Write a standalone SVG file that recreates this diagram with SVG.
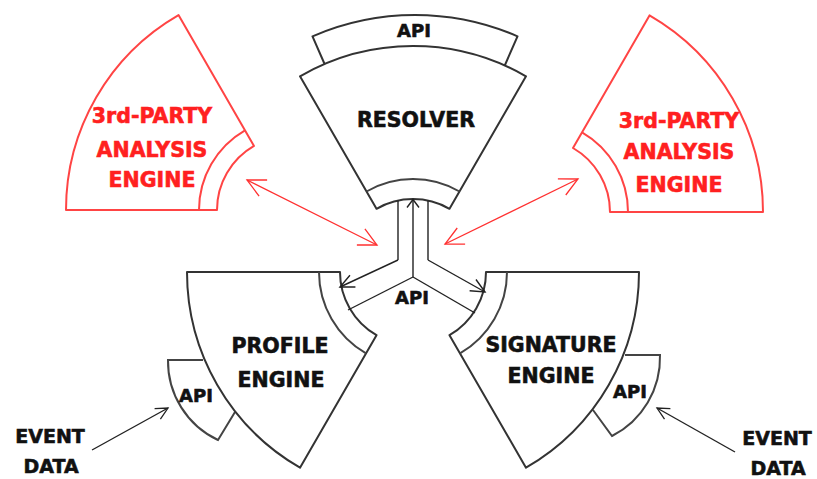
<svg xmlns="http://www.w3.org/2000/svg" width="817" height="479" viewBox="0 0 817 479">
  <defs>
    <style>
      .sec { fill: #fff; stroke: #333; stroke-width: 2; stroke-linejoin: round; }
      .band { fill: none; stroke: #444; stroke-width: 2; }
      .rsec { fill: #fff; stroke: #ff4444; stroke-width: 2; stroke-linejoin: round; }
      .rband { fill: none; stroke: #ff4444; stroke-width: 2; }
      .pipe { fill: none; stroke: #222; stroke-width: 1.4; }
      .rarrow { fill: none; stroke: #ff3030; stroke-width: 1.3; }
      .lbl { font-family: "DejaVu Sans", "Liberation Sans", sans-serif; font-weight: bold; font-size: 20.5px; text-anchor: middle; fill: #111; stroke: #111; stroke-width: 0.6; }
      .api { font-size: 18px; }
      .red { fill: #ff2020; stroke: #ff2020; }
    </style>
    <marker id="headRed" viewBox="-20 -10 22 20" refX="0" refY="0" markerWidth="22" markerHeight="20" markerUnits="userSpaceOnUse" orient="auto-start-reverse">
      <path d="M -18,-9 L 0,0 L -18,9" fill="none" stroke="#ff3030" stroke-width="1.3"/>
    </marker>
    <marker id="headBlack" viewBox="-16 -8 18 16" refX="0" refY="0" markerWidth="18" markerHeight="16" markerUnits="userSpaceOnUse" orient="auto">
      <path d="M -14,-6.5 L 0,0 L -14,6.5" fill="none" stroke="#222" stroke-width="1.4"/>
    </marker>
    <marker id="headSmall" viewBox="-10 -8 12 16" refX="0" refY="0" markerWidth="12" markerHeight="16" markerUnits="userSpaceOnUse" orient="auto">
      <path d="M -8,-6 L 0,0 L -8,6" fill="none" stroke="#222" stroke-width="1.4"/>
    </marker>
    <marker id="headEvent" viewBox="-14 -8 16 16" refX="0" refY="0" markerWidth="16" markerHeight="16" markerUnits="userSpaceOnUse" orient="auto">
      <path d="M -12,-6 L 0,0 L -12,6" fill="none" stroke="#222" stroke-width="1.3"/>
    </marker>
  </defs>

  <!-- Resolver with its outer API band -->
  <g id="resolver">
    <path class="sec" d="M 325,65 L 312.5,36.3 A 257 257 0 0 1 517.5,36.3 L 505,65 Z"/>
    <path class="sec" d="M 300,76.3 A 226 226 0 0 1 526,76.3 L 449.5,208.8 A 73 73 0 0 0 376.5,208.8 Z"/>
    <path class="band" d="M 366.5,191.5 A 93 93 0 0 1 459.5,191.5"/>
    <text class="lbl api" x="414" y="37">API</text>
    <text class="lbl" x="416" y="127">RESOLVER</text>
  </g>

  <!-- Third-party analysis engine, left -->
  <g id="thirdPartyLeft">
    <path class="rsec" d="M 66,210 L 217,210 A 74 74 0 0 1 254,145.9 L 178.5,15.1 A 225 225 0 0 0 66,210 Z"/>
    <path class="rband" d="M 199,210 A 92 92 0 0 1 245,130.3"/>
    <text class="lbl red" x="152" y="123">3rd-PARTY</text>
    <text class="lbl red" x="152" y="157">ANALYSIS</text>
    <text class="lbl red" x="152" y="187">ENGINE</text>
  </g>

  <!-- Third-party analysis engine, right -->
  <g id="thirdPartyRight">
    <path class="rsec" d="M 763,212 L 610,212 A 74 74 0 0 0 573,148 L 649.5,15.4 A 227 227 0 0 1 763,212 Z"/>
    <path class="rband" d="M 628,212 A 92 92 0 0 0 582,132.3"/>
    <text class="lbl red" x="679" y="128">3rd-PARTY</text>
    <text class="lbl red" x="679" y="159">ANALYSIS</text>
    <text class="lbl red" x="679" y="192">ENGINE</text>
  </g>

  <!-- Profile engine with its API piece -->
  <g id="profileEngine">
    <path class="band" d="M 203,360 L 168,360 A 87 87 0 0 0 218,440 L 235,412"/>
    <path class="sec" d="M 187,272 L 340,272 A 73 73 0 0 0 376.5,335.2 L 300,467.7 A 226 226 0 0 1 187,272 Z"/>
    <path class="band" d="M 319,272 A 94 94 0 0 0 366,353.4"/>
    <text class="lbl" x="280" y="353">PROFILE</text>
    <text class="lbl" x="281" y="387">ENGINE</text>
    <text class="lbl api" x="196" y="402">API</text>
  </g>

  <!-- Signature engine with its API piece -->
  <g id="signatureEngine">
    <path class="band" d="M 625,355 L 660,355 A 88 88 0 0 1 612,436 L 593,410"/>
    <path class="sec" d="M 486,272 L 639,272 A 226 226 0 0 1 526,467.7 L 449.5,335.2 A 73 73 0 0 0 486,272 Z"/>
    <path class="band" d="M 507,272 A 94 94 0 0 1 460,353.4"/>
    <text class="lbl" x="551" y="352">SIGNATURE</text>
    <text class="lbl" x="551" y="383">ENGINE</text>
    <text class="lbl api" x="630" y="398">API</text>
  </g>

  <!-- Central API hub label -->
  <g id="centralApi">
    <text class="lbl api" x="412" y="304">API</text>
  </g>

  <!-- Event data sources -->
  <g id="eventDataLeft">
    <text class="lbl" x="50" y="443" style="font-size:19px">EVENT</text>
    <text class="lbl" x="51" y="473" style="font-size:19px">DATA</text>
  </g>
  <g id="eventDataRight">
    <text class="lbl" x="777" y="445" style="font-size:19px">EVENT</text>
    <text class="lbl" x="778" y="475" style="font-size:19px">DATA</text>
  </g>

  <!-- Connectors -->
  <g id="connectors">
    <!-- Y-shaped pipe between resolver, profile and signature -->
    <line class="pipe" x1="398" y1="200.6" x2="398" y2="260"/>
    <line class="pipe" x1="428" y1="200.6" x2="428" y2="260"/>
    <line class="pipe" x1="413" y1="277" x2="413" y2="199.5" marker-end="url(#headSmall)"/>
    <line class="pipe" x1="398" y1="260" x2="340" y2="287" marker-end="url(#headBlack)"/>
    <line class="pipe" x1="413" y1="277" x2="348" y2="310"/>
    <line class="pipe" x1="428" y1="260" x2="485" y2="292" marker-end="url(#headBlack)"/>
    <line class="pipe" x1="413" y1="277" x2="475" y2="313"/>
    <!-- third-party links -->
    <line class="rarrow" x1="247" y1="180" x2="377" y2="245" marker-start="url(#headRed)" marker-end="url(#headRed)"/>
    <line class="rarrow" x1="578" y1="179" x2="445" y2="244" marker-start="url(#headRed)" marker-end="url(#headRed)"/>
    <!-- event data inputs -->
    <line class="pipe" x1="92" y1="450" x2="168" y2="408" marker-end="url(#headEvent)"/>
    <line class="pipe" x1="735" y1="452" x2="657" y2="408" marker-end="url(#headEvent)"/>
  </g>
</svg>
